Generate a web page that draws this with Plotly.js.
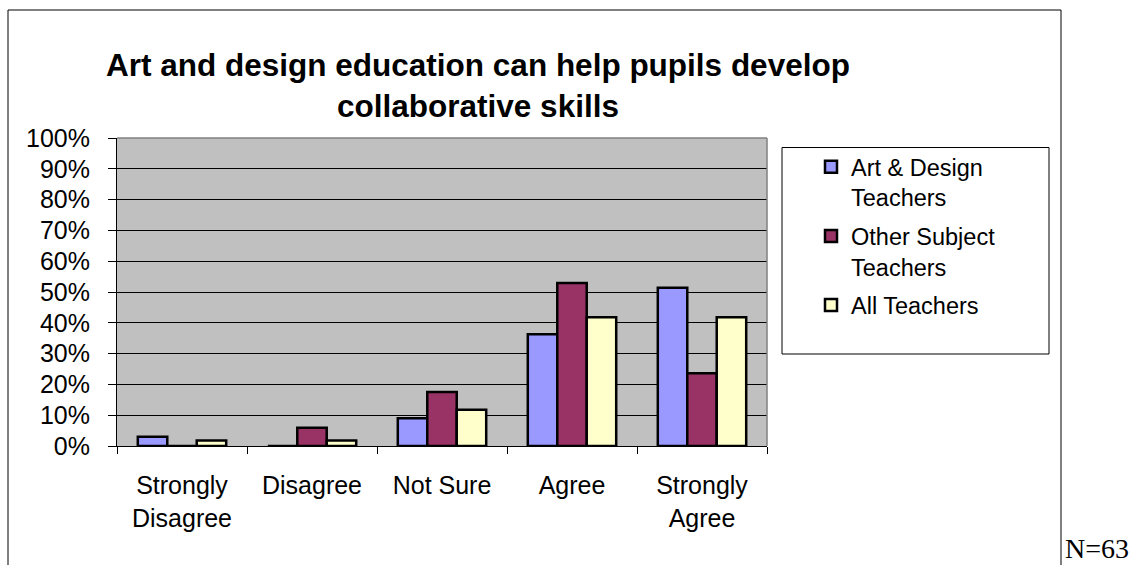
<!DOCTYPE html>
<html>
<head>
<meta charset="utf-8">
<script src="https://cdn.plot.ly/plotly-3.0.1.min.js"></script>
<style>
  html, body { margin: 0; padding: 0; background: #ffffff; }
  #chart { width: 1141px; height: 565px; }
</style>
</head>
<body>
<div id="chart"></div>
<script>
// ---- Data ----
const categories = ["Strongly<br>Disagree", "Disagree", "Not Sure", "Agree", "Strongly<br>Agree"];
const seriesNames = ["Art & Design<br>Teachers", "Other Subject<br>Teachers", "All Teachers"];
const artDesign = [3.0, 0, 9.0, 36.3, 51.4];
const otherSubject = [0, 5.9, 17.5, 52.9, 23.6];
const allTeachers = [1.8, 1.8, 11.8, 41.8, 41.8];
const yTicks = [0, 10, 20, 30, 40, 50, 60, 70, 80, 90, 100];
const titleText = "Art and design education can help pupils develop<br>collaborative skills";
const noteText = "N=63";

// ---- Layout helpers (pixel -> paper) ----
const W = 1141, H = 565;
const M = {l: 117, r: 374, t: 138, b: 119};
const PW = W - M.l - M.r, PH = H - M.t - M.b;
const X = px => (px - M.l) / PW;
const Y = py => (H - M.b - py) / PH;

const FONT = '"Liberation Sans", Arial, sans-serif';
const colors = ["#9999FF", "#993366", "#FFFFCC"];
const values = [artDesign, otherSubject, allTeachers];

const traces = values.map((v, i) => ({
  type: 'bar',
  x: categories,
  y: v,
  name: seriesNames[i],
  legendgroup: 'g' + i,
  marker: {color: colors[i], line: {color: '#000000', width: 2.5}},
  hoverinfo: 'skip'
}));

const layout = {
  width: W, height: H,
  margin: M,
  paper_bgcolor: '#ffffff',
  plot_bgcolor: '#C0C0C0',
  barmode: 'group',
  bargap: 0.32,
  bargroupgap: 0,
  font: {family: FONT, color: '#000000', size: 25},
  title: {
    text: titleText,
    font: {family: FONT, size: 31.5, color: '#000000', weight: 'bold'},
    xref: 'paper', x: X(478), xanchor: 'center',
    yref: 'container', y: 1 - 76 / H, yanchor: 'top'
  },
  xaxis: {
    type: 'category',
    tickson: 'boundaries',
    ticks: 'outside', ticklen: 7, tickcolor: '#000000', tickwidth: 1,
    showline: true, linecolor: '#000000', linewidth: 1,
    showgrid: false,
    tickfont: {family: FONT, size: 25, color: '#000000'},
    ticklabelstandoff: 17,
    fixedrange: true
  },
  yaxis: {
    range: [0, 100],
    tickvals: yTicks,
    ticktext: yTicks.map(t => t + '%'),
    ticks: 'outside', ticklen: 8, tickcolor: '#000000', tickwidth: 1,
    showline: true, linecolor: '#000000', linewidth: 1,
    showgrid: true, gridcolor: '#000000', gridwidth: 1,
    zeroline: false,
    tickfont: {family: FONT, size: 25, color: '#000000'},
    ticklabelstandoff: 13,
    fixedrange: true
  },
  legend: {
    x: X(811), xanchor: 'left',
    y: Y(145), yanchor: 'top',
    bgcolor: 'rgba(0,0,0,0)',
    borderwidth: 0,
    font: {family: FONT, size: 23.5, color: '#000000'},
    valign: 'top',
    tracegroupgap: 5
  },
  showlegend: true,
  shapes: [
    // outer chart border
    {type: 'rect', xref: 'paper', yref: 'paper', x0: X(8), x1: X(1061), y0: Y(10), y1: Y(570),
     line: {color: '#000000', width: 1}, fillcolor: 'rgba(0,0,0,0)', layer: 'below'},
    // legend box
    {type: 'rect', xref: 'paper', yref: 'paper', x0: X(782), x1: X(1049), y0: Y(147.5), y1: Y(354),
     line: {color: '#000000', width: 1}, fillcolor: 'rgba(0,0,0,0)', layer: 'above'},
    // plot area border top & right (gray)
    {type: 'line', xref: 'paper', yref: 'paper', x0: 0, x1: 1, y0: 1, y1: 1,
     line: {color: '#808080', width: 1.5}, layer: 'above'},
    {type: 'line', xref: 'paper', yref: 'paper', x0: 1, x1: 1, y0: 0, y1: 1,
     line: {color: '#808080', width: 1.5}, layer: 'above'}
  ],
  annotations: [
    {text: noteText, xref: 'paper', yref: 'paper', x: X(1063), xanchor: 'left',
     y: Y(566), yanchor: 'bottom', showarrow: false,
     font: {family: '"Liberation Serif", "Times New Roman", serif', size: 28, color: '#000000'}}
  ]
};

Plotly.newPlot('chart', traces, layout, {displayModeBar: false, staticPlot: true});
</script>
</body>
</html>
